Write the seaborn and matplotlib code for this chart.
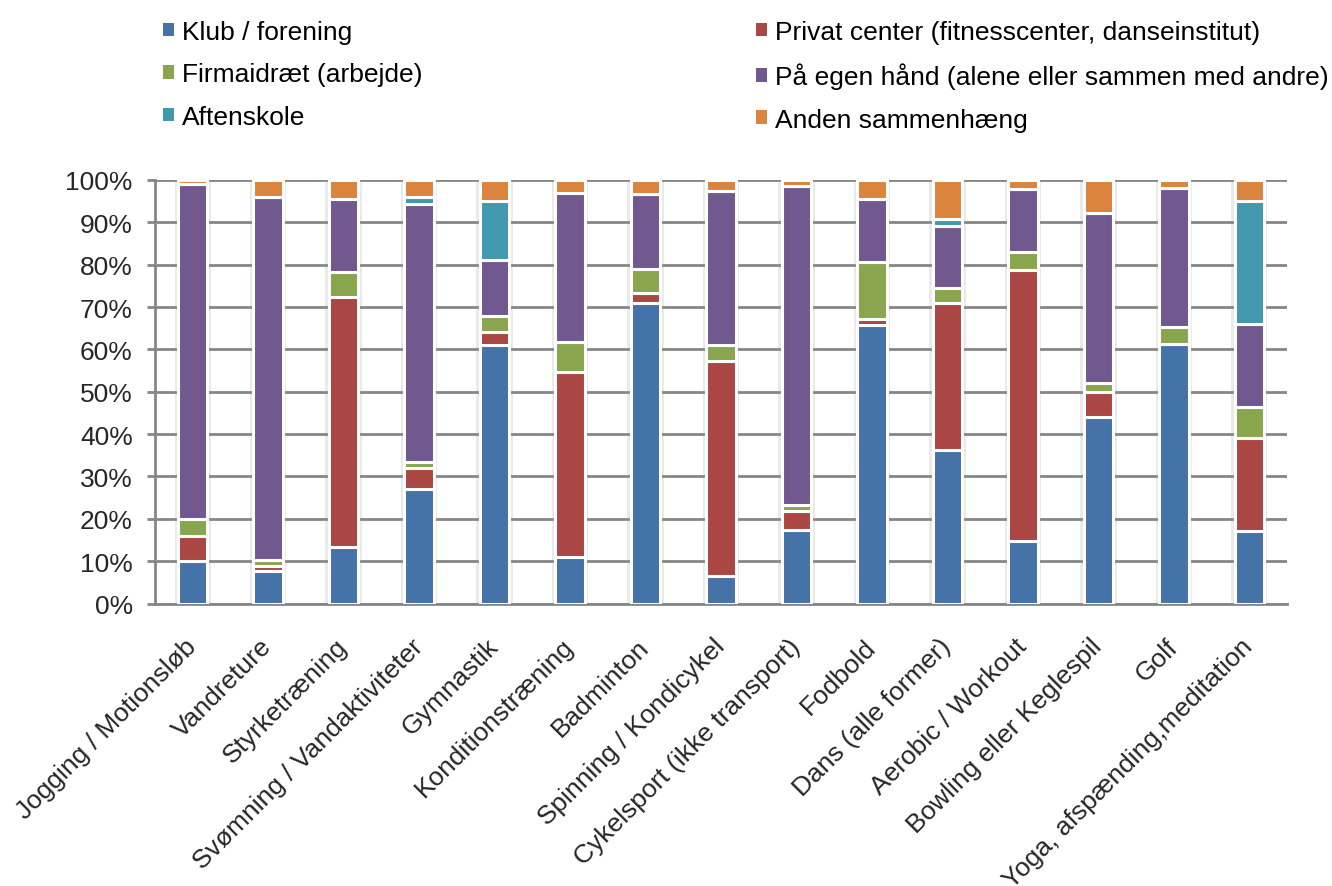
import numpy as np
import pandas as pd
import matplotlib
matplotlib.use("Agg")
import matplotlib.pyplot as plt
import matplotlib.patheffects as pe
from matplotlib.patches import Patch
from matplotlib.ticker import FuncFormatter
import seaborn as sns

# Activities (x categories)
activities = [
    "Jogging / Motionsløb", "Vandreture", "Styrketræning",
    "Svømning / Vandaktiviteter", "Gymnastik", "Konditionstræning",
    "Badminton", "Spinning / Kondicykel", "Cykelsport (ikke transport)",
    "Fodbold", "Dans (alle former)", "Aerobic / Workout",
    "Bowling eller Keglespil", "Golf", "Yoga, afspænding,meditation",
]

# Share (%) of each setting per activity
klub =        [10.0, 7.6, 13.4, 27.0, 61.0, 11.0, 70.9, 6.5, 17.4, 65.7, 36.2, 14.8, 44.1, 61.3, 17.1]
privat =      [6.0, 1.2, 58.9, 4.9, 3.0, 43.7, 2.4, 50.7, 4.4, 1.5, 34.7, 63.9, 5.8, 0.0, 22.0]
firma =       [4.0, 1.5, 5.9, 1.6, 4.0, 7.1, 5.7, 3.8, 1.4, 13.4, 3.6, 4.3, 2.2, 4.0, 7.3]
egen =        [79.0, 85.8, 17.2, 60.8, 13.2, 35.1, 17.8, 36.5, 75.5, 15.0, 14.6, 14.9, 40.0, 32.7, 19.7]
aftenskole =  [0.0, 0.0, 0.0, 1.6, 13.8, 0.0, 0.0, 0.0, 0.0, 0.0, 1.8, 0.0, 0.0, 0.0, 29.0]
anden =       [1.0, 3.9, 4.6, 4.1, 5.0, 3.1, 3.2, 2.5, 1.3, 4.4, 9.1, 2.1, 7.9, 2.0, 4.9]

series_labels = [
    "Klub / forening",
    "Privat center (fitnesscenter, danseinstitut)",
    "Firmaidræt (arbejde)",
    "På egen hånd (alene eller sammen med andre)",
    "Aftenskole",
    "Anden sammenhæng",
]
series_values = [klub, privat, firma, egen, aftenskole, anden]
series_colors = ["#4572A7", "#AA4643", "#89A54E", "#71588F", "#4198AF", "#DB843D"]

sns.set_theme(style="white")
plt.rcParams["font.family"] = ["Liberation Sans", "DejaVu Sans"]
plt.rcParams["text.color"] = "black"

FS = 19

fig = plt.figure(figsize=(13.32, 8.87), dpi=100)
ax = fig.add_axes([155 / 1332, 1 - 604.5 / 887, (1287 - 155) / 1332, (604.5 - 181) / 887])

shadow = [
    pe.SimplePatchShadow(offset=(-2.5, 0), shadow_rgbFace="#9a9a9a", alpha=0.2),
    pe.SimplePatchShadow(offset=(2.5, 0), shadow_rgbFace="#9a9a9a", alpha=0.2),
    pe.Normal(),
]

bottom = np.zeros(len(activities))
for label, vals, col in zip(series_labels, series_values, series_colors):
    frame = pd.DataFrame({"Aktivitet": activities, "Andel": vals})
    sns.barplot(
        data=frame, x="Aktivitet", y="Andel", order=activities,
        color=col, saturation=1, width=0.39, errorbar=None,
        bottom=bottom.copy(), edgecolor="white", linewidth=2.2,
        zorder=3, ax=ax,
    )
    bottom += np.asarray(vals)

for p in ax.patches:
    p.set_path_effects(shadow)

# Axes styling
grey = "#868686"
ax.set_xlim(-0.5, len(activities) - 0.5)
ax.set_ylim(0, 100)
ax.set_yticks(np.arange(0, 101, 10))
ax.yaxis.set_major_formatter(FuncFormatter(lambda v, _: f"{int(v)}%"))
ax.yaxis.grid(True, color=grey, linewidth=2)
ax.xaxis.grid(False)
ax.set_axisbelow(True)
for side in ("top", "right"):
    ax.spines[side].set_visible(False)
for side in ("left", "bottom"):
    ax.spines[side].set_color(grey)
    ax.spines[side].set_linewidth(2)

ax.set_xlabel("")
ax.set_ylabel("")
ax.set_xticks(np.arange(len(activities)))
ax.set_xticklabels(activities, rotation=45, ha="right", va="center",
                   rotation_mode="anchor", fontsize=FS)
ax.set_xticks(np.arange(-0.5, len(activities), 1), minor=True)
ax.tick_params(axis="x", which="major", length=0, pad=28)
ax.tick_params(axis="x", which="minor", length=6, width=2, color=grey, direction="out")
ax.tick_params(axis="y", which="major", length=6, width=2, color=grey, direction="out",
               pad=10, labelsize=FS, left=True)

# Legend in two columns above the plot
order = [0, 2, 4, 1, 3, 5]
handles = [Patch(facecolor=series_colors[i], edgecolor="none") for i in order]
labels = [series_labels[i] for i in order]
fig.legend(
    handles, labels, ncol=2, loc="upper left",
    bbox_to_anchor=(163 / 1332, 1 - 21 / 887, (1329 - 163) / 1332, 0),
    mode="expand", frameon=False, fontsize=FS,
    handlelength=0.42, handleheight=0.42, handletextpad=0.3,
    labelspacing=0.7, borderpad=0, borderaxespad=0,
)

fig.savefig("out.png", dpi=100)
